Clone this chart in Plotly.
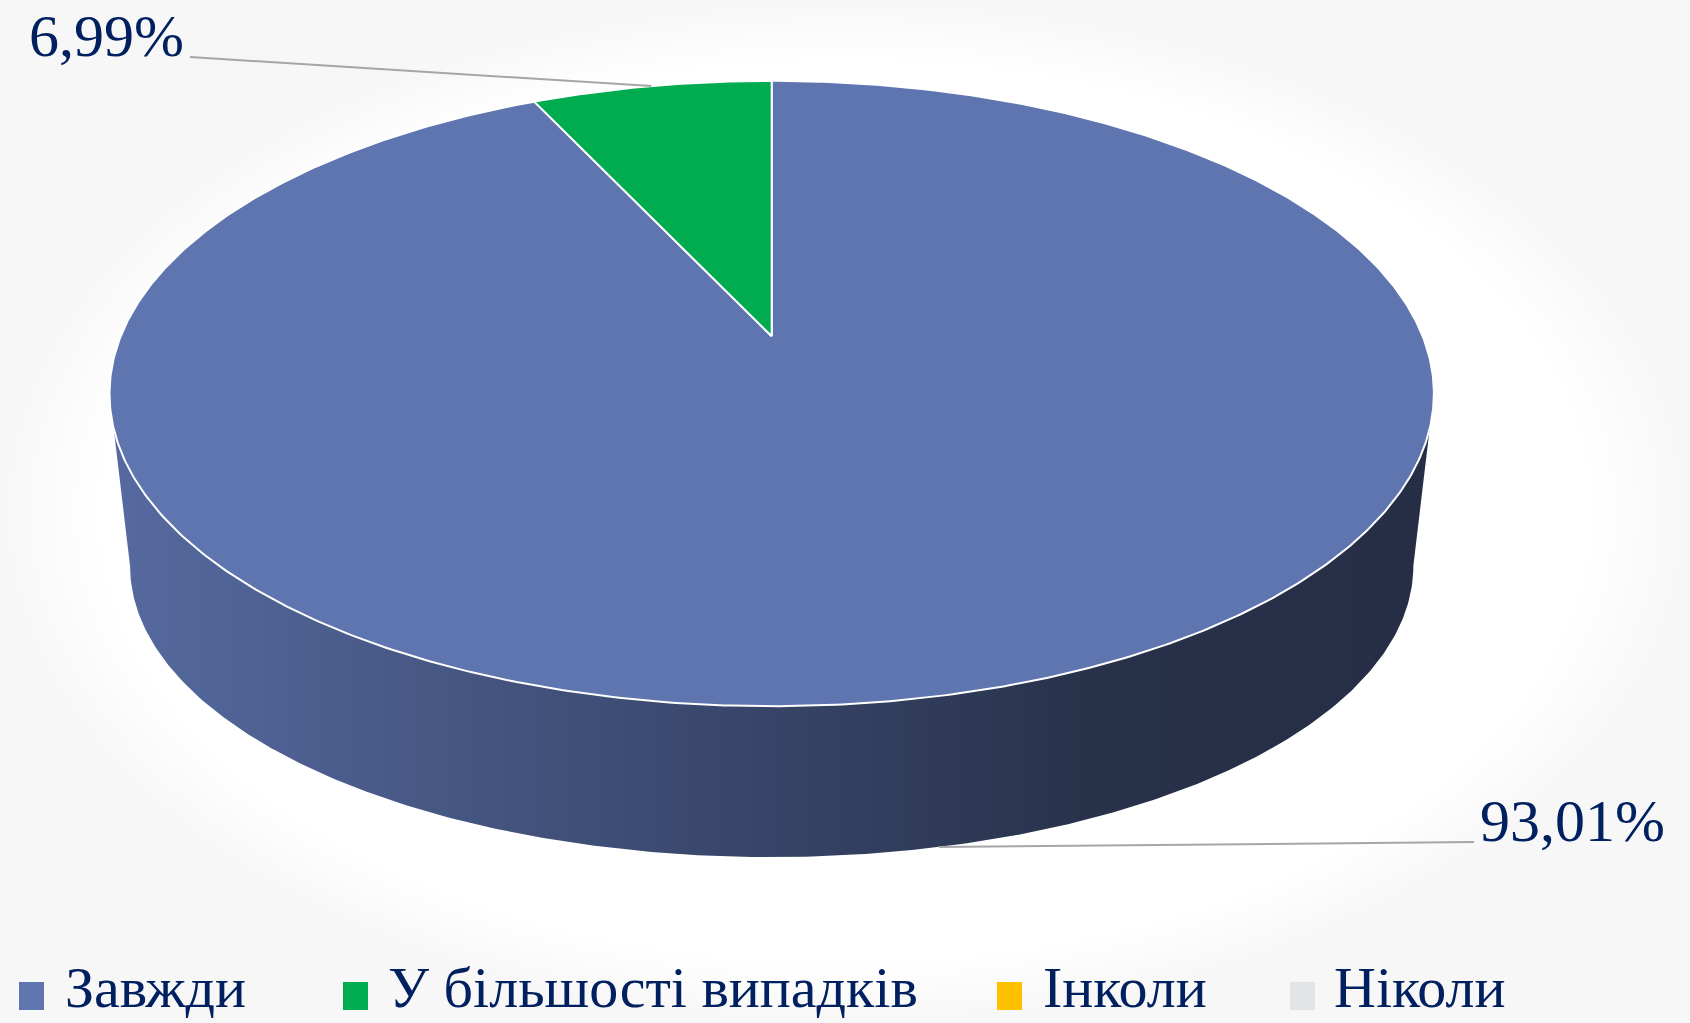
import numpy as np
import plotly.graph_objects as go

# дані
categories = ["Завжди", "У більшості випадків", "Інколи", "Ніколи"]
values = [93.01, 6.99, 0.0, 0.0]
value_labels = ["93,01%", "6,99%", "", ""]
colors = ["#5f75b0", "#00ac4f", "#ffc000", "#e1e5e7"]

W, H = 1690, 1023
FONT = "Liberation Serif"
TEXT_COLOR = "#002060"

# геометрія нахиленого 3D-кола (у пікселях)
CX, CY = 771.7, 336.3
RX, RY = 651.0, 302.2
PERSP = 0.183
BOT_DY, BOT_SX, BOT_SY = 176.4, 0.969, 0.931

# де стоять підписи (кінець виносної лінії) і легенда
label_pos = [(1474, 842, "left"), (190, 57, "right")]
legend_box_x = [19, 343, 997, 1290]
legend_text_x = [63, 386, 1041, 1332]
legend_y = 996


def top_pt(theta):
    t = np.radians(theta)
    d = 1 + PERSP * np.cos(t)
    return CX + RX * np.sin(t) / d, CY - RY * np.cos(t) / d


def bot_pt(theta):
    t = np.radians(theta)
    d = 1 + PERSP * np.cos(t)
    return CX + RX * BOT_SX * np.sin(t) / d, CY + BOT_DY - RY * BOT_SY * np.cos(t) / d


def shade(hexc, k):
    hexc = hexc.lstrip("#")
    r, g, b = (int(hexc[i:i + 2], 16) for i in (0, 2, 4))
    return "rgb(%d,%d,%d)" % (r * k, g * k, b * k)


def arc(a0, a1):
    n = max(2, int(abs(a1 - a0) * 2) + 2)
    return np.linspace(a0, a1, n)


total = sum(values)
starts = np.concatenate([[0], np.cumsum(values)[:-1]]) / total * 360
ends = np.cumsum(values) / total * 360

# видима передня частина бічної стінки
front0 = np.degrees(np.arccos(-PERSP))
front1 = 360 - front0

fig = go.Figure()

# ледь помітний фон з градієнтом
fig.add_trace(go.Scatter(
    x=[0, W, W, 0, 0], y=[0, 0, H, H, 0],
    mode="lines", fill="toself", line=dict(width=0),
    fillgradient=dict(type="radial",
                      colorscale=[[0, "#ffffff"], [0.88, "#ffffff"], [1, "#f7f7f7"]]),
    hoverinfo="skip", showlegend=False
))

# бічні стінки
for i, v in enumerate(values):
    if v <= 0:
        continue
    lo, hi = max(starts[i], front0), min(ends[i], front1)
    if hi <= lo:
        continue
    th = arc(lo, hi)
    tx, ty = top_pt(th)
    bx, by = bot_pt(th[::-1])
    xs = np.concatenate([tx, bx, tx[:1]])
    ys = np.concatenate([ty, by, ty[:1]])
    fig.add_trace(go.Scatter(
        x=xs, y=ys, mode="lines", fill="toself", line=dict(width=0),
        fillgradient=dict(type="horizontal", colorscale=[
            [0, shade(colors[i], 0.91)],
            [0.45, shade(colors[i], 0.62)],
            [0.75, shade(colors[i], 0.42)],
            [1, shade(colors[i], 0.40)],
        ]),
        hoverinfo="skip", showlegend=False
    ))

# верхні грані секторів
for i, v in enumerate(values):
    if v <= 0:
        continue
    th = arc(starts[i], ends[i])
    ax, ay = top_pt(th)
    xs = np.concatenate([[CX], ax, [CX]])
    ys = np.concatenate([[CY], ay, [CY]])
    fig.add_trace(go.Scatter(
        x=xs, y=ys, mode="lines", fill="toself",
        fillcolor=colors[i], line=dict(color="white", width=2),
        name=categories[i], hoverinfo="skip", showlegend=False
    ))

# виносні лінії та підписи
for i, v in enumerate(values):
    if v <= 0:
        continue
    mid = (starts[i] + ends[i]) / 2
    if front0 <= mid <= front1:
        px, py = bot_pt(mid)
    else:
        px, py = top_pt(mid)
    lx, ly, side = label_pos[i]
    fig.add_trace(go.Scatter(
        x=[float(px), lx], y=[float(py), ly], mode="lines",
        line=dict(color="#a6a6a6", width=2),
        hoverinfo="skip", showlegend=False
    ))
    fig.add_annotation(
        x=lx + (4 if side == "left" else -4), y=ly + 14,
        xref="x", yref="y", text=value_labels[i], showarrow=False,
        xanchor=side, yanchor="bottom",
        font=dict(family=FONT, size=60, color=TEXT_COLOR)
    )

# легенда
for i, cat in enumerate(categories):
    fig.add_shape(
        type="rect", xref="x", yref="y",
        x0=legend_box_x[i], x1=legend_box_x[i] + 25,
        y0=legend_y - 14, y1=legend_y + 14,
        fillcolor=colors[i], line=dict(width=0)
    )
    fig.add_annotation(
        x=legend_text_x[i], y=H - 1, xref="x", yref="y",
        text=cat, showarrow=False, xanchor="left", yanchor="bottom",
        font=dict(family=FONT, size=58, color=TEXT_COLOR)
    )

fig.update_layout(
    width=W, height=H,
    margin=dict(l=0, r=0, t=0, b=0),
    paper_bgcolor="white", plot_bgcolor="white",
    xaxis=dict(range=[0, W], visible=False, fixedrange=True),
    yaxis=dict(range=[H, 0], visible=False, fixedrange=True),
    showlegend=False
)

fig.write_html(
    "out.html",
    config={"displayModeBar": False},
    post_script="document.body.style.margin='0';document.body.style.overflow='hidden';"
)
